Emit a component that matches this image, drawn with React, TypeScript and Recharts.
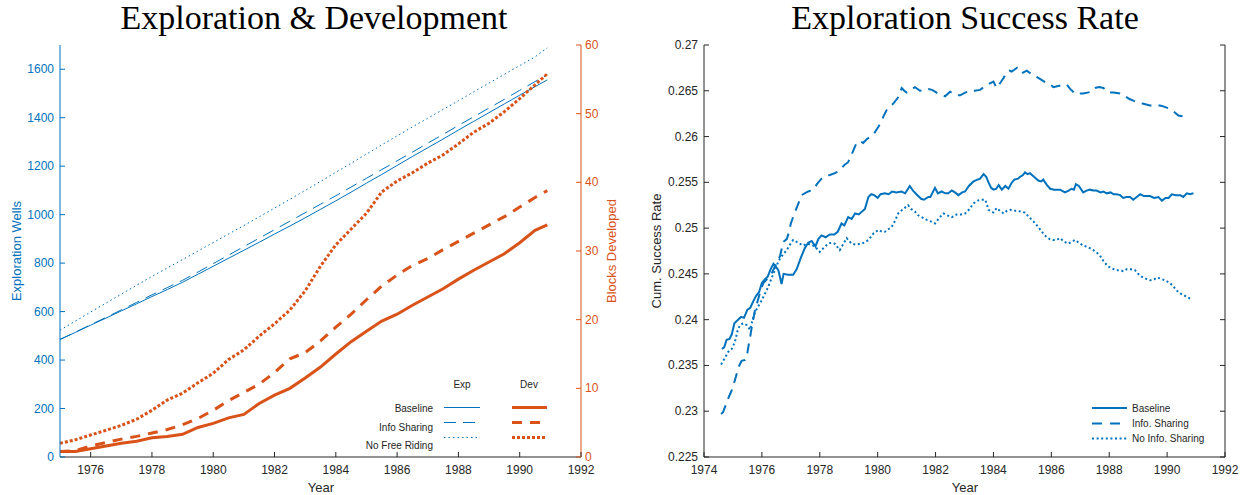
import { LineChart, Line, XAxis, YAxis } from 'recharts';

const BLUE = '#0072BD';
const ORANGE = '#D95319';
const INK = '#262626';
const SANS = '"Liberation Sans", Arial, Helvetica, sans-serif';
const SERIF = '"Liberation Serif", "Times New Roman", serif';
const TICK_LEN = 5;

// ---- left panel: cumulative wells (left axis) and developed blocks (right axis)
const halfYears = [
  1975, 1975.5, 1976, 1976.5, 1977, 1977.5, 1978, 1978.5, 1979, 1979.5, 1980, 1980.5,
  1981, 1981.5, 1982, 1982.5, 1983, 1983.5, 1984, 1984.5, 1985, 1985.5, 1986, 1986.5,
  1987, 1987.5, 1988, 1988.5, 1989, 1989.5, 1990, 1990.5, 1990.9,
];
const wellsBaseline = [
  485, 514, 544, 573, 603, 632, 662, 691, 721, 754, 787, 820, 853, 886, 920, 953, 987,
  1022, 1057, 1093, 1130, 1166, 1203, 1240, 1276, 1312, 1349, 1385, 1421, 1457, 1493, 1528, 1556,
];
const wellsInfoSharing = [
  485, 515, 546, 576, 607, 638, 669, 699, 729, 763, 798, 833, 868, 903, 938, 973, 1008,
  1043, 1078, 1114, 1150, 1186, 1222, 1258, 1295, 1331, 1368, 1404, 1440, 1476, 1513, 1549, 1577,
];
const wellsNoFreeRiding = [
  523, 561, 598, 635, 672, 709, 745, 780, 815, 850, 885, 920, 955, 991, 1027, 1063, 1100,
  1137, 1175, 1212, 1250, 1288, 1325, 1362, 1398, 1434, 1470, 1507, 1543, 1579, 1615, 1651, 1688,
];
const blocksBaseline = [
  0.8, 0.8, 1.2, 1.6, 2.0, 2.3, 2.8, 3.0, 3.3, 4.3, 4.9, 5.7, 6.2, 7.8, 9.0, 10.0, 11.5,
  13.1, 15.0, 16.8, 18.3, 19.8, 20.8, 22.1, 23.3, 24.5, 25.9, 27.2, 28.4, 29.6, 31.2, 33.0, 33.8,
];
const blocksInfoSharing = [
  0.8, 0.9, 1.6, 2.1, 2.6, 3.0, 3.5, 4.0, 4.7, 5.6, 6.8, 8.2, 9.4, 10.6, 12.3, 14.3, 15.2,
  16.9, 18.9, 20.8, 22.9, 24.9, 26.5, 27.9, 28.9, 30.2, 31.4, 32.6, 33.8, 35.0, 36.4, 37.8, 38.8,
];
const blocksNoFreeRiding = [
  2.0, 2.5, 3.2, 3.9, 4.6, 5.5, 6.8, 8.3, 9.3, 10.8, 12.2, 14.2, 15.6, 17.6, 19.4, 21.4, 24.2,
  27.8, 30.9, 33.2, 35.5, 38.6, 40.2, 41.4, 42.8, 44.0, 45.6, 47.3, 48.6, 50.3, 52.2, 54.2, 55.8,
];
const leftYearTicks = [1976, 1978, 1980, 1982, 1984, 1986, 1988, 1990, 1992];
const wellTicks = [0, 200, 400, 600, 800, 1000, 1200, 1400, 1600];
const blockTicks = [0, 10, 20, 30, 40, 50, 60];

// ---- right panel: cumulative exploration success rate, [year, rate]
const rateBaseline: [number, number][] = [
  [1974.62, 0.2368], [1974.7, 0.237], [1974.78, 0.2378], [1974.88, 0.2379], [1974.96, 0.2384],
  [1975.05, 0.2396], [1975.15, 0.2399], [1975.28, 0.2403], [1975.38, 0.2402], [1975.5, 0.2411],
  [1975.6, 0.2413], [1975.7, 0.242], [1975.8, 0.2426], [1975.9, 0.243], [1976.0, 0.244],
  [1976.1, 0.2444], [1976.2, 0.2447], [1976.3, 0.2455], [1976.4, 0.2461], [1976.5, 0.2457],
  [1976.57, 0.2454], [1976.68, 0.2439], [1976.75, 0.245], [1976.9, 0.2449], [1977.08, 0.2449],
  [1977.2, 0.2455], [1977.35, 0.2468], [1977.48, 0.2478], [1977.6, 0.2484], [1977.72, 0.2486],
  [1977.85, 0.248], [1977.95, 0.2488], [1978.06, 0.2492], [1978.2, 0.249], [1978.35, 0.2493],
  [1978.5, 0.2493], [1978.62, 0.2496], [1978.75, 0.2505], [1978.85, 0.2503], [1978.98, 0.2512],
  [1979.1, 0.251], [1979.22, 0.2516], [1979.35, 0.2515], [1979.45, 0.2518], [1979.56, 0.2521],
  [1979.68, 0.2534], [1979.78, 0.2537], [1979.88, 0.2536], [1980.0, 0.2533], [1980.1, 0.2537],
  [1980.25, 0.2538], [1980.38, 0.2537], [1980.5, 0.254], [1980.65, 0.2539], [1980.82, 0.254],
  [1980.95, 0.2538], [1981.11, 0.2546], [1981.22, 0.2541], [1981.34, 0.2537], [1981.5, 0.2532],
  [1981.6, 0.2531], [1981.75, 0.2534], [1981.82, 0.2534], [1981.98, 0.2544], [1982.08, 0.2538],
  [1982.21, 0.254], [1982.33, 0.2538], [1982.44, 0.2538], [1982.56, 0.2541], [1982.67, 0.2539],
  [1982.79, 0.2536], [1982.92, 0.2539], [1983.02, 0.254], [1983.15, 0.2546], [1983.31, 0.2551],
  [1983.45, 0.2553], [1983.54, 0.2554], [1983.66, 0.2559], [1983.75, 0.2556], [1983.83, 0.255],
  [1983.92, 0.2544], [1984.0, 0.2542], [1984.1, 0.2543], [1984.18, 0.2547], [1984.29, 0.2542],
  [1984.41, 0.2546], [1984.52, 0.2543], [1984.62, 0.2549], [1984.72, 0.2553], [1984.85, 0.2554],
  [1984.92, 0.2556], [1985.02, 0.2558], [1985.09, 0.2561], [1985.18, 0.2559], [1985.26, 0.256],
  [1985.4, 0.2556], [1985.55, 0.2552], [1985.65, 0.2551], [1985.72, 0.2553], [1985.85, 0.2547],
  [1985.96, 0.2543], [1986.1, 0.2542], [1986.3, 0.2542], [1986.47, 0.2539], [1986.6, 0.2541],
  [1986.7, 0.2543], [1986.78, 0.2542], [1986.85, 0.2548], [1986.95, 0.2546], [1987.1, 0.2539],
  [1987.22, 0.2541], [1987.33, 0.2542], [1987.45, 0.2541], [1987.56, 0.2541], [1987.7, 0.2539],
  [1987.8, 0.254], [1987.91, 0.2538], [1988.05, 0.2539], [1988.15, 0.2537], [1988.25, 0.2537],
  [1988.38, 0.2536], [1988.48, 0.2533], [1988.6, 0.2534], [1988.72, 0.2534], [1988.83, 0.2531],
  [1988.95, 0.2534], [1989.07, 0.2537], [1989.2, 0.2535], [1989.41, 0.2535], [1989.55, 0.2533],
  [1989.7, 0.2534], [1989.82, 0.253], [1989.95, 0.2533], [1990.05, 0.2533], [1990.16, 0.2537],
  [1990.3, 0.2536], [1990.45, 0.2536], [1990.56, 0.2534], [1990.68, 0.2538], [1990.79, 0.2537],
  [1990.91, 0.2538],
];
const rateInfoSharing: [number, number][] = [
  [1974.59, 0.2297], [1974.66, 0.2299], [1974.73, 0.2305], [1974.85, 0.2315], [1974.96, 0.2323],
  [1975.05, 0.2332], [1975.13, 0.2341], [1975.22, 0.235], [1975.3, 0.2355], [1975.42, 0.2356],
  [1975.48, 0.236], [1975.53, 0.237], [1975.6, 0.2382], [1975.65, 0.2392], [1975.76, 0.241],
  [1975.85, 0.242], [1975.93, 0.2429], [1976.05, 0.244], [1976.2, 0.2445], [1976.33, 0.245],
  [1976.45, 0.2458], [1976.55, 0.2464], [1976.63, 0.247], [1976.74, 0.2485], [1976.86, 0.2488],
  [1976.93, 0.2495], [1977.0, 0.2505], [1977.1, 0.2514], [1977.2, 0.2522], [1977.3, 0.253],
  [1977.37, 0.2536], [1977.48, 0.2538], [1977.6, 0.254], [1977.7, 0.2541], [1977.78, 0.2542],
  [1977.9, 0.2548], [1978.06, 0.2554], [1978.2, 0.2557], [1978.35, 0.2558], [1978.52, 0.256],
  [1978.69, 0.2563], [1978.85, 0.2569], [1978.98, 0.2572], [1979.12, 0.2582], [1979.27, 0.2593],
  [1979.38, 0.2595], [1979.5, 0.2593], [1979.62, 0.2597], [1979.75, 0.26], [1979.85, 0.2602],
  [1980.03, 0.2611], [1980.12, 0.2616], [1980.2, 0.2622], [1980.31, 0.2629], [1980.43, 0.2633],
  [1980.54, 0.2636], [1980.69, 0.2642], [1980.77, 0.2648], [1980.83, 0.2653], [1980.92, 0.265],
  [1981.0, 0.2648], [1981.15, 0.2651], [1981.29, 0.2654], [1981.38, 0.2652], [1981.46, 0.265],
  [1981.6, 0.2651], [1981.75, 0.2652], [1981.88, 0.2651], [1981.98, 0.2649], [1982.15, 0.2646],
  [1982.33, 0.2644], [1982.5, 0.2649], [1982.61, 0.2647], [1982.73, 0.2645], [1982.85, 0.2645],
  [1983.02, 0.2648], [1983.19, 0.265], [1983.35, 0.265], [1983.54, 0.2651], [1983.66, 0.2654],
  [1983.8, 0.2657], [1984.0, 0.266], [1984.11, 0.2653], [1984.22, 0.2658], [1984.35, 0.2664],
  [1984.46, 0.2671], [1984.55, 0.2672], [1984.63, 0.2671], [1984.72, 0.2673], [1984.81, 0.2675],
  [1984.9, 0.2671], [1984.98, 0.2669], [1985.15, 0.2672], [1985.28, 0.2669], [1985.38, 0.2667],
  [1985.55, 0.2664], [1985.7, 0.2661], [1985.85, 0.2658], [1985.96, 0.2657], [1986.07, 0.2654],
  [1986.2, 0.2655], [1986.35, 0.2656], [1986.53, 0.2657], [1986.65, 0.2652], [1986.78, 0.2648],
  [1986.87, 0.2646], [1987.0, 0.2647], [1987.1, 0.2647], [1987.25, 0.2648], [1987.39, 0.2649],
  [1987.51, 0.2653], [1987.65, 0.2654], [1987.8, 0.2653], [1987.9, 0.265], [1987.97, 0.2648],
  [1988.15, 0.2648], [1988.37, 0.2647], [1988.55, 0.2644], [1988.7, 0.2641], [1988.85, 0.2639],
  [1988.95, 0.2638], [1989.15, 0.2636], [1989.41, 0.2634], [1989.6, 0.2634], [1989.75, 0.2634],
  [1989.87, 0.2633], [1990.04, 0.2631], [1990.2, 0.2628], [1990.39, 0.2623], [1990.55, 0.2622],
  [1990.7, 0.2621],
];
const rateNoInfoSharing: [number, number][] = [
  [1974.59, 0.2351], [1974.72, 0.2358], [1974.84, 0.2365], [1974.96, 0.2368], [1975.07, 0.2376],
  [1975.16, 0.2388], [1975.24, 0.2394], [1975.36, 0.2396], [1975.48, 0.2394], [1975.59, 0.2389],
  [1975.68, 0.24], [1975.76, 0.2408], [1975.88, 0.2415], [1975.99, 0.2421], [1976.1, 0.2428],
  [1976.22, 0.2436], [1976.33, 0.2445], [1976.45, 0.2454], [1976.55, 0.2462], [1976.63, 0.2467],
  [1976.75, 0.2472], [1976.86, 0.2476], [1976.97, 0.2482], [1977.08, 0.2487], [1977.2, 0.2485],
  [1977.31, 0.2483], [1977.43, 0.2481], [1977.55, 0.2483], [1977.7, 0.2482], [1977.83, 0.248],
  [1978.0, 0.2474], [1978.15, 0.2479], [1978.29, 0.2483], [1978.4, 0.2484], [1978.52, 0.2483],
  [1978.69, 0.2476], [1978.8, 0.2482], [1978.93, 0.2489], [1979.1, 0.2483], [1979.25, 0.2482],
  [1979.45, 0.2483], [1979.58, 0.2485], [1979.68, 0.2487], [1979.85, 0.2494], [1980.03, 0.2498],
  [1980.15, 0.2496], [1980.25, 0.2496], [1980.38, 0.2499], [1980.48, 0.2501], [1980.6, 0.2508],
  [1980.71, 0.2516], [1980.85, 0.252], [1981.05, 0.2525], [1981.15, 0.2521], [1981.29, 0.2518],
  [1981.4, 0.2514], [1981.52, 0.2512], [1981.7, 0.2509], [1981.85, 0.2507], [1981.98, 0.2505],
  [1982.12, 0.2511], [1982.27, 0.2516], [1982.4, 0.2514], [1982.56, 0.2512], [1982.73, 0.2515],
  [1982.88, 0.2515], [1983.02, 0.2516], [1983.15, 0.252], [1983.31, 0.2527], [1983.45, 0.253],
  [1983.58, 0.2531], [1983.72, 0.2531], [1983.83, 0.252], [1984.0, 0.2517], [1984.11, 0.2522],
  [1984.22, 0.2519], [1984.35, 0.2516], [1984.47, 0.2519], [1984.58, 0.252], [1984.7, 0.2519],
  [1984.81, 0.2519], [1984.95, 0.2518], [1985.09, 0.2517], [1985.2, 0.2513], [1985.33, 0.2509],
  [1985.45, 0.2505], [1985.55, 0.2501], [1985.7, 0.2495], [1985.84, 0.249], [1985.95, 0.2488],
  [1986.07, 0.2487], [1986.18, 0.2487], [1986.3, 0.2489], [1986.45, 0.2485], [1986.59, 0.2483],
  [1986.7, 0.2485], [1986.82, 0.2487], [1986.95, 0.2484], [1987.1, 0.2481], [1987.28, 0.2479],
  [1987.45, 0.2476], [1987.58, 0.2473], [1987.68, 0.247], [1987.82, 0.2463], [1987.97, 0.2458],
  [1988.1, 0.2456], [1988.25, 0.2454], [1988.38, 0.2454], [1988.48, 0.2453], [1988.6, 0.2455],
  [1988.75, 0.2455], [1988.89, 0.2454], [1989.0, 0.245], [1989.12, 0.2447], [1989.25, 0.2445],
  [1989.41, 0.2443], [1989.55, 0.2444], [1989.65, 0.2446], [1989.76, 0.2445], [1989.92, 0.2443],
  [1990.1, 0.244], [1990.25, 0.2435], [1990.39, 0.243], [1990.55, 0.2427], [1990.68, 0.2425],
  [1990.85, 0.2422],
];
const rightYearTicks = [1974, 1976, 1978, 1980, 1982, 1984, 1986, 1988, 1990, 1992];
const rateTicks = [0.225, 0.23, 0.235, 0.24, 0.245, 0.25, 0.255, 0.26, 0.265, 0.27];

const leftData = halfYears.map((year, i) => ({
  year,
  wellsBaseline: wellsBaseline[i],
  wellsInfoSharing: wellsInfoSharing[i],
  wellsNoFreeRiding: wellsNoFreeRiding[i],
  blocksBaseline: blocksBaseline[i],
  blocksInfoSharing: blocksInfoSharing[i],
  blocksNoFreeRiding: blocksNoFreeRiding[i],
}));

const toRows = (pts: [number, number][]) => pts.map(([year, rate]) => ({ year, rate }));

const fmtRate = (v: number) => String(Number(v.toFixed(3)));

// matlab-style ticks: marks point into the plot, labels sit outside
function BottomTick(props: any) {
  const { x, y, payload, color, noLabel } = props;
  return (
    <g>
      <line x1={x} y1={y} x2={x} y2={y - TICK_LEN} stroke={color} strokeWidth={1} />
      {!noLabel && (
        <text x={x} y={y + 17} textAnchor="middle" fill={color} fontSize={12} fontFamily={SANS}>
          {payload.value}
        </text>
      )}
    </g>
  );
}

function TopTick(props: any) {
  const { x, y, color } = props;
  return <line x1={x} y1={y} x2={x} y2={y + TICK_LEN} stroke={color} strokeWidth={1} />;
}

function LeftTick(props: any) {
  const { x, y, payload, color, format } = props;
  const label = format ? format(payload.value) : payload.value;
  return (
    <g>
      <line x1={x} y1={y} x2={x + TICK_LEN} y2={y} stroke={color} strokeWidth={1} />
      <text x={x - 6} y={y + 4} textAnchor="end" fill={color} fontSize={12} fontFamily={SANS}>
        {label}
      </text>
    </g>
  );
}

function RightTick(props: any) {
  const { x, y, payload, color, noLabel } = props;
  return (
    <g>
      <line x1={x} y1={y} x2={x - TICK_LEN} y2={y} stroke={color} strokeWidth={1} />
      {!noLabel && (
        <text x={x + 4} y={y + 4} textAnchor="start" fill={color} fontSize={12} fontFamily={SANS}>
          {payload.value}
        </text>
      )}
    </g>
  );
}

function ExplorationDevelopment() {
  return (
    <LineChart width={640} height={495} data={leftData} margin={{ top: 45, right: 0, bottom: 0, left: 0 }}>
      <XAxis
        dataKey="year"
        type="number"
        domain={[1975, 1992]}
        ticks={leftYearTicks}
        interval={0}
        height={38}
        tickSize={0}
        tickMargin={0}
        tickLine={false}
        axisLine={{ stroke: INK }}
        tick={(p: any) => <BottomTick {...p} color={INK} />}
      />
      <YAxis
        yAxisId="wells"
        domain={[0, 1700]}
        ticks={wellTicks}
        interval={0}
        width={60}
        tickSize={0}
        tickMargin={0}
        tickLine={false}
        axisLine={{ stroke: BLUE }}
        tick={(p: any) => <LeftTick {...p} color={BLUE} />}
      />
      <YAxis
        yAxisId="blocks"
        orientation="right"
        domain={[0, 60]}
        ticks={blockTicks}
        interval={0}
        width={59}
        tickSize={0}
        tickMargin={0}
        tickLine={false}
        axisLine={{ stroke: ORANGE }}
        tick={(p: any) => <RightTick {...p} color={ORANGE} />}
      />
      <Line yAxisId="wells" dataKey="wellsBaseline" stroke={BLUE} strokeWidth={1} dot={false} isAnimationActive={false} />
      <Line yAxisId="wells" dataKey="wellsInfoSharing" stroke={BLUE} strokeWidth={1} strokeDasharray="12 7" dot={false} isAnimationActive={false} />
      <Line yAxisId="wells" dataKey="wellsNoFreeRiding" stroke={BLUE} strokeWidth={1} strokeDasharray="1.5 3" dot={false} isAnimationActive={false} />
      <Line yAxisId="blocks" dataKey="blocksBaseline" stroke={ORANGE} strokeWidth={3} dot={false} isAnimationActive={false} />
      <Line yAxisId="blocks" dataKey="blocksInfoSharing" stroke={ORANGE} strokeWidth={3} strokeDasharray="10 8" dot={false} isAnimationActive={false} />
      <Line yAxisId="blocks" dataKey="blocksNoFreeRiding" stroke={ORANGE} strokeWidth={3} strokeDasharray="3 2" dot={false} isAnimationActive={false} />
    </LineChart>
  );
}

function SuccessRate() {
  return (
    <LineChart width={606} height={495} margin={{ top: 45, right: 0, bottom: 0, left: 0 }}>
      <XAxis
        xAxisId="bottom"
        dataKey="year"
        type="number"
        domain={[1974, 1992]}
        ticks={rightYearTicks}
        interval={0}
        height={38}
        tickSize={0}
        tickMargin={0}
        tickLine={false}
        axisLine={{ stroke: INK }}
        tick={(p: any) => <BottomTick {...p} color={INK} />}
      />
      <XAxis
        xAxisId="top"
        orientation="top"
        dataKey="year"
        type="number"
        domain={[1974, 1992]}
        ticks={rightYearTicks}
        interval={0}
        height={0}
        tickSize={0}
        tickMargin={0}
        tickLine={false}
        axisLine={{ stroke: INK }}
        tick={(p: any) => <TopTick {...p} color={INK} />}
      />
      <YAxis
        yAxisId="left"
        domain={[0.225, 0.27]}
        ticks={rateTicks}
        interval={0}
        width={64}
        tickSize={0}
        tickMargin={0}
        tickLine={false}
        axisLine={{ stroke: INK }}
        tick={(p: any) => <LeftTick {...p} color={INK} format={fmtRate} />}
      />
      <YAxis
        yAxisId="right"
        orientation="right"
        domain={[0.225, 0.27]}
        ticks={rateTicks}
        interval={0}
        width={21}
        tickSize={0}
        tickMargin={0}
        tickLine={false}
        axisLine={{ stroke: INK }}
        tick={(p: any) => <RightTick {...p} color={INK} noLabel />}
      />
      <Line xAxisId="bottom" yAxisId="left" data={toRows(rateBaseline)} dataKey="rate" stroke={BLUE} strokeWidth={2} dot={false} isAnimationActive={false} />
      <Line xAxisId="bottom" yAxisId="left" data={toRows(rateInfoSharing)} dataKey="rate" stroke={BLUE} strokeWidth={2} strokeDasharray="10 7" dot={false} isAnimationActive={false} />
      <Line xAxisId="top" yAxisId="right" data={toRows(rateNoInfoSharing)} dataKey="rate" stroke={BLUE} strokeWidth={2} strokeDasharray="2 2.6" dot={false} isAnimationActive={false} />
    </LineChart>
  );
}

// titles, axis captions and the two legends
function Annotations() {
  const small = { fontFamily: SANS, fontSize: 10, fill: INK };
  const label = { fontFamily: SANS, fontSize: 13 };
  const rows = ['Baseline', 'Info Sharing', 'No Free Riding'];
  const rowY = [408, 427, 445];
  const sampleY = [407.5, 422.5, 437.5];
  const expDash = [undefined, '12 7', '1.5 3'];
  const devDash = [undefined, '10 8', '3 2'];
  const rateRows = ['Baseline', 'Info. Sharing', 'No Info. Sharing'];
  const rateRowY = [408, 423.5, 438.5];
  const rateDash = [undefined, '10 8', '2 2.6'];
  return (
    <svg width={1246} height={495} style={{ position: 'absolute', left: 0, top: 0, pointerEvents: 'none' }}>
      <text x={314} y={29} textAnchor="middle" fontFamily={SERIF} fontSize={34} fill="#000">
        Exploration &amp; Development
      </text>
      <text x={965} y={29} textAnchor="middle" fontFamily={SERIF} fontSize={34} fill="#000">
        Exploration Success Rate
      </text>

      <text transform="translate(21 251) rotate(-90)" textAnchor="middle" {...label} fill={BLUE}>
        Exploration Wells
      </text>
      <text transform="translate(616 251) rotate(-90)" textAnchor="middle" {...label} fill={ORANGE}>
        Blocks Developed
      </text>
      <text x={321} y={492} textAnchor="middle" {...label} fill={INK}>Year</text>
      <text transform="translate(661 251) rotate(-90)" textAnchor="middle" {...label} fill={INK}>
        Cum. Success Rate
      </text>
      <text x={965} y={492} textAnchor="middle" {...label} fill={INK}>Year</text>

      <text x={462} y={387.5} textAnchor="middle" {...small}>Exp</text>
      <text x={529} y={387.5} textAnchor="middle" {...small}>Dev</text>
      {rows.map((r, i) => (
        <g key={r}>
          <text x={433} y={rowY[i] + 3.5} textAnchor="end" {...small}>{r}</text>
          <line x1={444} x2={480} y1={sampleY[i]} y2={sampleY[i]} stroke={BLUE} strokeWidth={1} strokeDasharray={expDash[i]} />
          <line x1={512} x2={547} y1={sampleY[i]} y2={sampleY[i]} stroke={ORANGE} strokeWidth={3} strokeDasharray={devDash[i]} />
        </g>
      ))}

      {rateRows.map((r, i) => (
        <g key={r}>
          <line x1={1092} x2={1127} y1={rateRowY[i]} y2={rateRowY[i]} stroke={BLUE} strokeWidth={2} strokeDasharray={rateDash[i]} />
          <text x={1132} y={rateRowY[i] + 3.5} {...small}>{r}</text>
        </g>
      ))}
    </svg>
  );
}

export default function App() {
  return (
    <div style={{ position: 'absolute', left: 0, top: 0, width: 1246, height: 495, background: '#fff' }}>
      <div style={{ position: 'absolute', left: 0, top: 0 }}>
        <ExplorationDevelopment />
      </div>
      <div style={{ position: 'absolute', left: 640, top: 0 }}>
        <SuccessRate />
      </div>
      <Annotations />
    </div>
  );
}
